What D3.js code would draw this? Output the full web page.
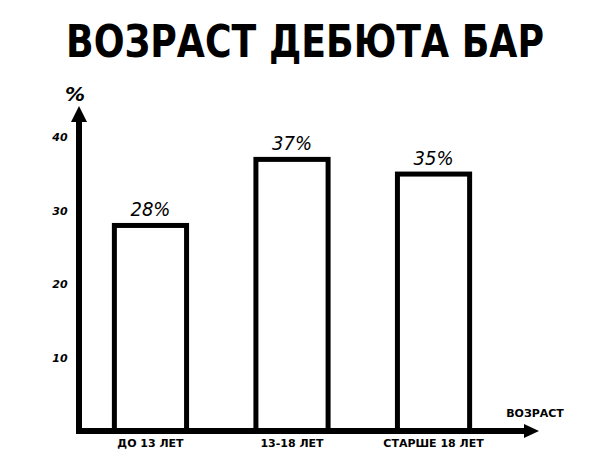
<!DOCTYPE html>
<html><head><meta charset="utf-8">
<script src="https://cdn.jsdelivr.net/npm/d3@7"></script>
<style>body{margin:0;background:#fff}</style>
</head><body>
<svg id="c" width="611" height="465"></svg>
<script>
const categories = ["до 13 лет", "13-18 лет", "старше 18 лет"];
const values = [28, 37, 35];
const valueLabels = ["28%", "37%", "35%"];
const yTicks = [10, 20, 30, 40];
const title = "ВОЗРАСТ ДЕБЮТА БАР";
const yLabel = "%";
const xLabel = "возраст";

const svg = d3.select("#c");
const x0 = 79, baseY = 431;
const x = d3.scaleBand().domain(categories).range([x0, 505]).paddingInner(0.49).paddingOuter(0.25);
const y = d3.scaleLinear().domain([0, 44]).range([baseY, 108]);

svg.append("text").attr("x", 305).attr("y", 57).attr("text-anchor", "middle")
  .attr("font-family", "Liberation Sans Narrow, DejaVu Sans Condensed, sans-serif")
  .attr("font-weight", "bold").attr("font-size", 44)
  .attr("textLength", 478).attr("lengthAdjust", "spacingAndGlyphs")
  .text(title);

// bars
svg.selectAll("rect.bar").data(values).join("rect").attr("class", "bar")
  .attr("x", (d, i) => x(categories[i]))
  .attr("y", d => y(d))
  .attr("width", x.bandwidth())
  .attr("height", d => baseY - y(d))
  .attr("fill", "none").attr("stroke", "#000").attr("stroke-width", 5);

// value labels
svg.selectAll("text.val").data(values).join("text").attr("class", "val")
  .attr("x", (d, i) => x(categories[i]) + x.bandwidth() / 2)
  .attr("y", d => y(d) - 9)
  .attr("text-anchor", "middle")
  .attr("font-family", "DejaVu Sans Condensed, sans-serif").attr("font-style", "italic")
  .attr("font-size", 20).attr("fill", "#000")
  .text((d, i) => valueLabels[i]);

// axes
svg.append("line").attr("x1", x0).attr("x2", x0).attr("y1", baseY + 2).attr("y2", 118)
  .attr("stroke", "#000").attr("stroke-width", 6);
svg.append("path").attr("d", `M${x0 - 8},${122} L${x0},${106} L${x0 + 8},${122} Z`).attr("fill", "#000");
svg.append("line").attr("x1", x0 - 3).attr("x2", 528).attr("y1", baseY).attr("y2", baseY)
  .attr("stroke", "#000").attr("stroke-width", 6);
svg.append("path").attr("d", `M${524},${baseY - 7} L${539},${baseY} L${524},${baseY + 7} Z`).attr("fill", "#000");

// y tick labels
svg.selectAll("text.yt").data(yTicks).join("text").attr("class", "yt")
  .attr("x", 60).attr("y", d => y(d) + 4).attr("text-anchor", "middle")
  .attr("font-family", "DejaVu Sans, sans-serif").attr("font-weight", "bold")
  .attr("font-size", 11).attr("font-style", "italic").text(d => d);

// x tick labels
svg.selectAll("text.xt").data(categories).join("text").attr("class", "xt")
  .attr("x", d => x(d) + x.bandwidth() / 2).attr("y", 447).attr("text-anchor", "middle")
  .attr("font-family", "DejaVu Sans, sans-serif").attr("font-weight", "bold")
  .attr("font-size", 11).text(d => d.toUpperCase());

svg.append("text").attr("x", 75).attr("y", 101).attr("text-anchor", "middle")
  .attr("font-family", "DejaVu Sans, sans-serif").attr("font-weight", "bold").attr("font-style", "italic")
  .attr("font-size", 20).text(yLabel);
svg.append("text").attr("x", 535).attr("y", 417).attr("text-anchor", "middle")
  .attr("font-family", "DejaVu Sans, sans-serif").attr("font-weight", "bold")
  .attr("font-size", 11).text(xLabel.toUpperCase());
</script>
</body></html>
